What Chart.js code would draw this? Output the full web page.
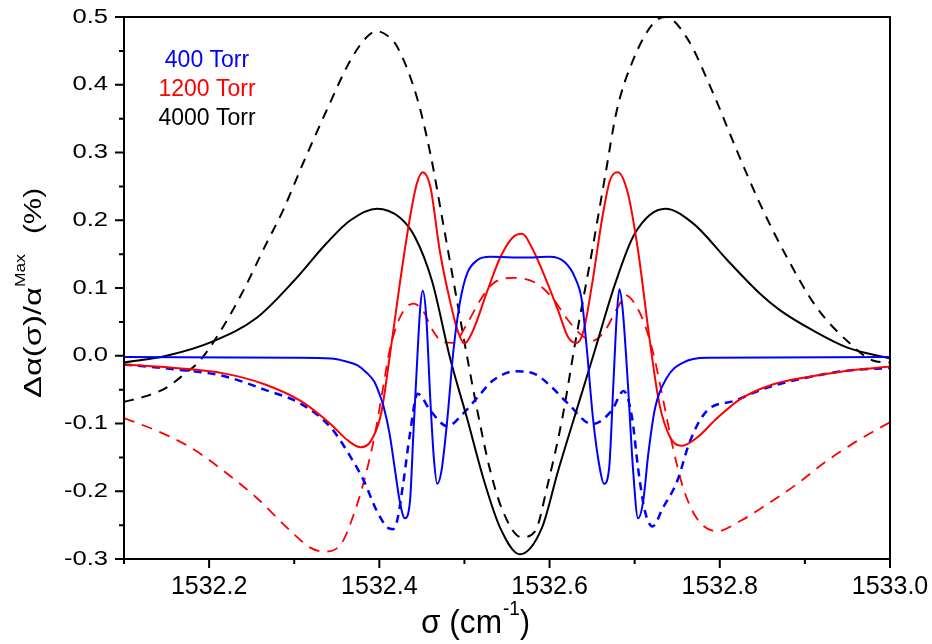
<!DOCTYPE html>
<html>
<head>
<meta charset="utf-8">
<script src="https://cdn.jsdelivr.net/npm/chart.js@4.4.1/dist/chart.umd.min.js"></script>
<style>
  html, body { margin: 0; padding: 0; background: #fff; }
  #wrap { width: 932px; height: 644px; }
</style>
</head>
<body>
<div id="wrap"><canvas id="chart" width="932" height="644"></canvas></div>
<script>
// axis ticks
const xTicks = [1532.2, 1532.4, 1532.6, 1532.8, 1533.0];
const xMinor = [1532.1, 1532.3, 1532.5, 1532.7, 1532.9];
const yTicks = [-0.3, -0.2, -0.1, 0.0, 0.1, 0.2, 0.3, 0.4, 0.5];
const yMinor = [-0.25, -0.15, -0.05, 0.05, 0.15, 0.25, 0.35, 0.45];

const seriesLabels = ['400 Torr', '1200 Torr', '4000 Torr'];
const seriesColors = ['#0000ff', '#ff0000', '#000000'];

// 400 Torr
const blueSolidX = [1532.100, 1532.300, 1532.343, 1532.360, 1532.374, 1532.385, 1532.394, 1532.400, 1532.405, 1532.412, 1532.418, 1532.424, 1532.430, 1532.436, 1532.440, 1532.444, 1532.448, 1532.451, 1532.455, 1532.460, 1532.464, 1532.468, 1532.473, 1532.480, 1532.487, 1532.495, 1532.503, 1532.515, 1532.530, 1532.570, 1532.600, 1532.618, 1532.630, 1532.638, 1532.644, 1532.651, 1532.659, 1532.664, 1532.670, 1532.675, 1532.679, 1532.682, 1532.686, 1532.692, 1532.698, 1532.704, 1532.710, 1532.716, 1532.724, 1532.738, 1532.757, 1532.785, 1533.000];
const blueSolidY = [-0.002, -0.003, -0.004, -0.008, -0.014, -0.025, -0.038, -0.056, -0.075, -0.115, -0.165, -0.215, -0.240, -0.215, -0.115, -0.018, 0.070, 0.096, 0.060, -0.067, -0.150, -0.189, -0.170, -0.092, 0.007, 0.081, 0.121, 0.141, 0.146, 0.145, 0.146, 0.138, 0.115, 0.081, 0.007, -0.092, -0.166, -0.189, -0.166, -0.041, 0.060, 0.098, 0.067, -0.041, -0.166, -0.240, -0.215, -0.145, -0.077, -0.032, -0.010, -0.003, -0.002];
const blueDashX = [1532.100, 1532.159, 1532.217, 1532.265, 1532.308, 1532.343, 1532.367, 1532.382, 1532.397, 1532.410, 1532.416, 1532.421, 1532.428, 1532.436, 1532.445, 1532.460, 1532.480, 1532.498, 1532.515, 1532.533, 1532.560, 1532.583, 1532.603, 1532.622, 1532.650, 1532.673, 1532.687, 1532.697, 1532.704, 1532.712, 1532.721, 1532.733, 1532.750, 1532.765, 1532.785, 1532.816, 1532.856, 1532.903, 1532.950, 1533.000];
const blueDashY = [-0.013, -0.020, -0.030, -0.050, -0.071, -0.106, -0.151, -0.185, -0.229, -0.254, -0.256, -0.243, -0.189, -0.115, -0.056, -0.081, -0.104, -0.086, -0.062, -0.037, -0.023, -0.027, -0.047, -0.071, -0.101, -0.081, -0.052, -0.092, -0.166, -0.229, -0.252, -0.225, -0.185, -0.126, -0.081, -0.067, -0.047, -0.032, -0.022, -0.018];

// 1200 Torr
const redSolidX = [1532.100, 1532.159, 1532.217, 1532.265, 1532.308, 1532.343, 1532.362, 1532.378, 1532.390, 1532.402, 1532.412, 1532.424, 1532.436, 1532.444, 1532.451, 1532.460, 1532.471, 1532.483, 1532.492, 1532.500, 1532.510, 1532.527, 1532.542, 1532.557, 1532.568, 1532.579, 1532.595, 1532.610, 1532.622, 1532.632, 1532.640, 1532.650, 1532.662, 1532.671, 1532.680, 1532.692, 1532.704, 1532.718, 1532.729, 1532.742, 1532.755, 1532.773, 1532.797, 1532.824, 1532.863, 1532.910, 1532.957, 1533.000];
const redSolidY = [-0.013, -0.018, -0.026, -0.042, -0.067, -0.101, -0.124, -0.135, -0.126, -0.086, -0.003, 0.106, 0.204, 0.254, 0.271, 0.249, 0.155, 0.081, 0.037, 0.018, 0.037, 0.096, 0.145, 0.175, 0.180, 0.160, 0.115, 0.067, 0.027, 0.019, 0.037, 0.106, 0.204, 0.259, 0.271, 0.240, 0.155, 0.020, -0.071, -0.121, -0.133, -0.121, -0.092, -0.064, -0.042, -0.030, -0.021, -0.016];
const redDashX = [1532.100, 1532.139, 1532.179, 1532.217, 1532.256, 1532.296, 1532.320, 1532.335, 1532.355, 1532.370, 1532.382, 1532.394, 1532.404, 1532.412, 1532.424, 1532.440, 1532.451, 1532.463, 1532.475, 1532.487, 1532.503, 1532.518, 1532.533, 1532.557, 1532.583, 1532.603, 1532.622, 1532.638, 1532.650, 1532.665, 1532.680, 1532.690, 1532.700, 1532.710, 1532.722, 1532.733, 1532.745, 1532.757, 1532.773, 1532.797, 1532.824, 1532.856, 1532.891, 1532.926, 1532.961, 1533.000];
const redDashY = [-0.092, -0.111, -0.136, -0.170, -0.210, -0.259, -0.284, -0.289, -0.278, -0.234, -0.185, -0.121, -0.050, 0.007, 0.056, 0.077, 0.067, 0.037, 0.020, 0.019, 0.047, 0.081, 0.106, 0.115, 0.108, 0.086, 0.052, 0.030, 0.022, 0.037, 0.071, 0.089, 0.077, 0.052, 0.003, -0.062, -0.136, -0.195, -0.240, -0.259, -0.244, -0.219, -0.189, -0.155, -0.126, -0.098];

// 4000 Torr
const blackSolidX = [1532.100, 1532.150, 1532.206, 1532.256, 1532.300, 1532.338, 1532.366, 1532.397, 1532.424, 1532.442, 1532.462, 1532.483, 1532.503, 1532.522, 1532.542, 1532.565, 1532.591, 1532.610, 1532.634, 1532.653, 1532.677, 1532.700, 1532.736, 1532.769, 1532.809, 1532.847, 1532.871, 1532.910, 1532.950, 1533.000];
const blackSolidY = [-0.010, 0.000, 0.022, 0.056, 0.111, 0.166, 0.200, 0.217, 0.204, 0.175, 0.110, -0.003, -0.092, -0.180, -0.254, -0.293, -0.254, -0.170, -0.071, 0.007, 0.106, 0.180, 0.217, 0.195, 0.141, 0.092, 0.067, 0.037, 0.012, -0.004];
const blackDashX = [1532.100, 1532.125, 1532.150, 1532.170, 1532.190, 1532.217, 1532.241, 1532.265, 1532.287, 1532.310, 1532.338, 1532.366, 1532.385, 1532.397, 1532.410, 1532.421, 1532.444, 1532.460, 1532.475, 1532.490, 1532.500, 1532.515, 1532.530, 1532.545, 1532.567, 1532.583, 1532.598, 1532.615, 1532.630, 1532.650, 1532.665, 1532.679, 1532.698, 1532.722, 1532.736, 1532.761, 1532.792, 1532.820, 1532.847, 1532.879, 1532.914, 1532.953, 1532.980, 1533.000];
const blackDashY = [-0.068, -0.060, -0.047, -0.028, -0.006, 0.044, 0.098, 0.160, 0.215, 0.283, 0.362, 0.436, 0.470, 0.479, 0.472, 0.456, 0.382, 0.298, 0.195, 0.090, 0.020, -0.080, -0.168, -0.229, -0.268, -0.259, -0.189, -0.092, 0.018, 0.155, 0.263, 0.362, 0.436, 0.491, 0.500, 0.470, 0.388, 0.303, 0.225, 0.145, 0.071, 0.018, -0.007, -0.010];

const FONT = '"Liberation Sans", Arial, sans-serif';

function pts(xs, ys) {
  return xs.map((x, i) => ({ x: x, y: ys[i] }));
}

function series(xs, ys, color, width, dash) {
  return {
    data: pts(xs, ys),
    borderColor: color,
    borderWidth: width,
    borderDash: dash,
    pointRadius: 0,
    fill: false,
    cubicInterpolationMode: 'monotone'
  };
}

// draw text stretched to a given length along its baseline
function stretchedText(ctx, text, font, x, y, len) {
  ctx.font = font;
  const w = ctx.measureText(text).width;
  ctx.save();
  ctx.translate(x, y);
  ctx.scale(len / w, 1);
  ctx.fillText(text, 0, 0);
  ctx.restore();
}

const frameAndLabels = {
  id: 'frameAndLabels',
  afterDraw(chart) {
    const ctx = chart.ctx;
    const a = chart.chartArea;
    const sx = chart.scales.x;
    const sy = chart.scales.y;
    ctx.save();
    ctx.strokeStyle = '#000';
    ctx.lineWidth = 2;
    ctx.strokeRect(a.left, a.top, a.right - a.left, a.bottom - a.top);

    // outward tick marks
    ctx.beginPath();
    yTicks.forEach(v => { const p = sy.getPixelForValue(v); ctx.moveTo(a.left, p); ctx.lineTo(a.left - 9, p); });
    yMinor.forEach(v => { const p = sy.getPixelForValue(v); ctx.moveTo(a.left, p); ctx.lineTo(a.left - 5, p); });
    xTicks.forEach(v => { const p = sx.getPixelForValue(v); ctx.moveTo(p, a.bottom); ctx.lineTo(p, a.bottom + 9); });
    xMinor.forEach(v => { const p = sx.getPixelForValue(v); ctx.moveTo(p, a.bottom); ctx.lineTo(p, a.bottom + 5); });
    ctx.stroke();

    // y tick labels (wide face, as in the original)
    ctx.fillStyle = '#000';
    ctx.textAlign = 'right';
    ctx.textBaseline = 'middle';
    ctx.font = '20px ' + FONT;
    yTicks.forEach(v => {
      const p = sy.getPixelForValue(v);
      ctx.save();
      ctx.translate(a.left - 16, p);
      ctx.scale(1.28, 1);
      ctx.fillText(v.toFixed(1), 0, 0);
      ctx.restore();
    });

    // series labels
    ctx.textAlign = 'center';
    ctx.textBaseline = 'alphabetic';
    ctx.font = '23px ' + FONT;
    seriesLabels.forEach((t, i) => {
      ctx.fillStyle = seriesColors[i];
      ctx.fillText(t, 207, 67 + i * 29);
    });

    // axis titles
    ctx.fillStyle = '#000';
    ctx.textAlign = 'left';
    stretchedText(ctx, 'σ (cm', '34px ' + FONT, 421, 633, 81);
    stretchedText(ctx, '-1', '20px ' + FONT, 503, 615, 17);
    stretchedText(ctx, ')', '34px ' + FONT, 520, 633, 10);

    ctx.save();
    ctx.rotate(-Math.PI / 2);
    stretchedText(ctx, 'Δα(σ)/α', '23px ' + FONT, -398, 41, 111);
    stretchedText(ctx, 'Max', '15px ' + FONT, -287, 25, 33);
    stretchedText(ctx, '(%)', '23px ' + FONT, -234, 41, 46);
    ctx.restore();

    ctx.restore();
  }
};

new Chart(document.getElementById('chart'), {
  type: 'line',
  data: {
    datasets: [
      series(blueSolidX, blueSolidY, seriesColors[0], 2, []),
      series(redSolidX, redSolidY, seriesColors[1], 2, []),
      series(blackSolidX, blackSolidY, seriesColors[2], 2, []),
      series(blueDashX, blueDashY, seriesColors[0], 2.5, [8, 6]),
      series(redDashX, redDashY, seriesColors[1], 1.8, [11, 8]),
      series(blackDashX, blackDashY, seriesColors[2], 2, [10, 8])
    ]
  },
  options: {
    responsive: false,
    animation: false,
    devicePixelRatio: 1,
    layout: { padding: { left: 0, top: 17, right: 42, bottom: 0 } },
    plugins: {
      legend: { display: false },
      tooltip: { enabled: false }
    },
    scales: {
      x: {
        type: 'linear',
        min: 1532.1,
        max: 1533.0,
        grid: { display: false, drawTicks: false },
        border: { display: false },
        afterBuildTicks: scale => { scale.ticks = xTicks.map(v => ({ value: v })); },
        afterFit: scale => {
          scale.height = 85;
          scale.paddingLeft = 0;
          scale.paddingRight = 0;
        },
        ticks: {
          padding: 13,
          color: '#000',
          maxRotation: 0,
          autoSkip: false,
          font: { family: FONT, size: 25 },
          callback: v => v.toFixed(1)
        }
      },
      y: {
        type: 'linear',
        min: -0.3,
        max: 0.5,
        grid: { display: false, drawTicks: false },
        border: { display: false },
        afterBuildTicks: scale => { scale.ticks = yTicks.map(v => ({ value: v })); },
        afterFit: scale => {
          scale.width = 124;
          scale.paddingTop = 0;
          scale.paddingBottom = 0;
        },
        ticks: { display: false }
      }
    }
  },
  plugins: [frameAndLabels]
});
</script>
</body>
</html>
